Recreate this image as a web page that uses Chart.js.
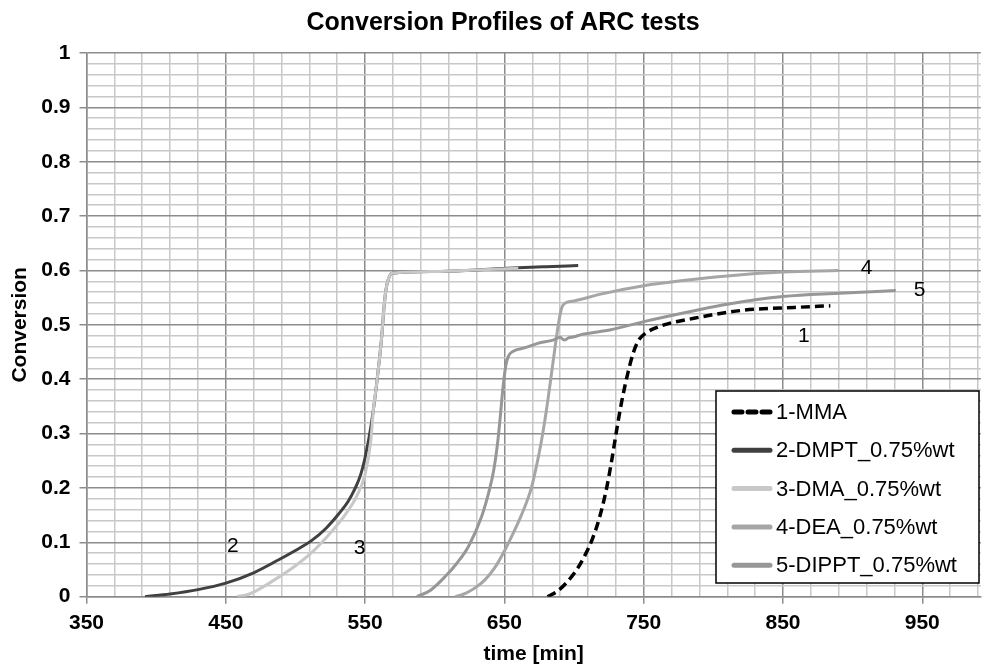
<!DOCTYPE html>
<html>
<head>
<meta charset="utf-8">
<script src="https://cdn.jsdelivr.net/npm/chart.js@4.4.0/dist/chart.umd.min.js"></script>
<style>
  body { margin: 0; background: #fff; }
  #wrap { width: 985px; height: 667px; }
</style>
</head>
<body>
<div id="wrap"><canvas id="arcChart" width="985" height="667"></canvas></div>
<script>
const seriesNames = ["1-MMA", "2-DMPT_0.75%wt", "3-DMA_0.75%wt", "4-DEA_0.75%wt", "5-DIPPT_0.75%wt"];

// values: time [min] / conversion
const mmaTime = [681, 688, 695, 702, 708, 713, 718, 723, 727, 730.5, 734, 738.5, 743, 747, 751, 760, 786, 822, 858, 884];
const mmaConv = [0, 0.01, 0.027, 0.05, 0.077, 0.105, 0.143, 0.195, 0.25, 0.305, 0.356, 0.41, 0.452, 0.474, 0.484, 0.496, 0.512, 0.527, 0.532, 0.535];

const dmptTime = [392, 410, 430, 450, 470, 488, 500, 512, 522, 531, 538, 543, 547, 550, 553, 556, 558, 560, 562, 563.5, 565, 567, 569.5, 600, 630, 660, 680, 703];
const dmptConv = [0, 0.005, 0.013, 0.025, 0.044, 0.068, 0.085, 0.104, 0.126, 0.152, 0.176, 0.2, 0.226, 0.256, 0.295, 0.345, 0.385, 0.43, 0.48, 0.53, 0.565, 0.586, 0.595, 0.598, 0.601, 0.605, 0.607, 0.609];

const dmaTime = [458, 466, 474, 488, 500, 512, 526, 536, 544, 550, 554, 556, 558, 560, 562, 563.5, 565, 567, 569.5, 600, 630, 660];
const dmaConv = [0, 0.004, 0.014, 0.036, 0.057, 0.082, 0.12, 0.152, 0.185, 0.225, 0.285, 0.345, 0.385, 0.43, 0.48, 0.53, 0.565, 0.586, 0.595, 0.598, 0.601, 0.604];

const deaTime = [614.6, 620, 625, 630, 636, 643, 650.4, 656, 662.2, 669.4, 673, 676.5, 680, 683, 686, 689, 691, 693, 700, 720, 750, 780, 810, 850, 890];
const deaConv = [0, 0.004, 0.01, 0.018, 0.031, 0.053, 0.086, 0.115, 0.15, 0.2, 0.24, 0.285, 0.34, 0.395, 0.452, 0.505, 0.53, 0.539, 0.544, 0.557, 0.572, 0.582, 0.59, 0.597, 0.6];

const dipptTime = [587.2, 597, 607.5, 616, 624.1, 633.6, 639.6, 642.5, 645, 647, 649, 651, 653, 656, 665, 674, 685, 690, 693, 696, 700, 705, 726.5, 750, 788, 810, 850, 890, 931];
const dipptConv = [0, 0.012, 0.037, 0.062, 0.092, 0.147, 0.2, 0.235, 0.28, 0.33, 0.385, 0.425, 0.443, 0.451, 0.458, 0.466, 0.472, 0.477, 0.472, 0.476, 0.478, 0.482, 0.491, 0.506, 0.527, 0.538, 0.552, 0.558, 0.563];

const xTickLabels = ["350", "450", "550", "650", "750", "850", "950"];
const yTickLabels = ["0", "0.1", "0.2", "0.3", "0.4", "0.5", "0.6", "0.7", "0.8", "0.9", "1"];

// numbers written next to the curves
const curveTags = ["1", "2", "3", "4", "5"];
const tagTime = [865, 455, 546, 910, 948];
const tagConv = [0.48, 0.092, 0.09, 0.605, 0.563];

const FONT = "'Liberation Sans', Arial, sans-serif";
const MAJOR = "#8c8c8c";
const MINOR = "#c8c8c8";

Chart.defaults.font.family = FONT;
Chart.defaults.color = "#000";

function toPoints(t, c) {
  return t.map((v, i) => ({ x: v, y: c[i] }));
}

function xIsMajor(v) {
  return xTickLabels.includes(String(Math.round(v)));
}

function yIsMajor(v) {
  return Math.round(v * 50) % 5 === 0;
}

const decorPlugin = {
  id: "decor",
  afterDraw(chart) {
    const { ctx, scales: { x, y } } = chart;
    ctx.save();

    // title
    ctx.fillStyle = "#000";
    ctx.font = "bold 25px " + FONT;
    ctx.textAlign = "center";
    ctx.textBaseline = "middle";
    ctx.fillText("Conversion Profiles of ARC tests", 503, 23);

    // curve numbers
    ctx.font = "21px " + FONT;
    curveTags.forEach((t, i) => {
      ctx.fillText(t, x.getPixelForValue(tagTime[i]), y.getPixelForValue(tagConv[i]));
    });

    // legend box inside the plot
    const lx = 716, ly = 391, lw = 263, lh = 192;
    ctx.fillStyle = "#fff";
    ctx.fillRect(lx, ly, lw, lh);
    ctx.strokeStyle = "#000";
    ctx.lineWidth = 1.5;
    ctx.strokeRect(lx, ly, lw, lh);

    ctx.font = "22px " + FONT;
    ctx.textAlign = "left";
    chart.data.datasets.forEach((ds, i) => {
      const cy = ly + 21 + i * 38.3;
      ctx.beginPath();
      ctx.strokeStyle = ds.borderColor;
      ctx.lineWidth = 5;
      ctx.lineCap = "round";
      ctx.setLineDash(ds.borderDash ? [8, 6] : []);
      ctx.moveTo(lx + 18, cy);
      ctx.lineTo(lx + 54, cy);
      ctx.stroke();
      ctx.setLineDash([]);
      ctx.fillStyle = "#000";
      ctx.fillText(ds.label, lx + 60, cy + 1);
    });

    ctx.restore();
  },
};

const lineColors = ["#000000", "#404040", "#c8c8c8", "#a6a6a6", "#979797"];
const allTimes = [mmaTime, dmptTime, dmaTime, deaTime, dipptTime];
const allConvs = [mmaConv, dmptConv, dmaConv, deaConv, dipptConv];

const datasets = seriesNames.map((name, i) => ({
  label: name,
  data: toPoints(allTimes[i], allConvs[i]),
  borderColor: lineColors[i],
  backgroundColor: lineColors[i],
  borderWidth: i === 0 ? 3.5 : 3,
  borderDash: i === 0 ? [9, 5] : undefined,
  pointRadius: 0,
  cubicInterpolationMode: "monotone",
  fill: false,
  order: 5 - i,
}));

new Chart(document.getElementById("arcChart"), {
  type: "line",
  data: { datasets: datasets },
  plugins: [decorPlugin],
  options: {
    responsive: false,
    animation: false,
    devicePixelRatio: 1,
    layout: { padding: { top: 53, left: 0, right: 0, bottom: 0 } },
    plugins: {
      legend: { display: false },
      title: { display: false },
      tooltip: { enabled: false },
    },
    scales: {
      x: {
        type: "linear",
        min: 350,
        max: 992,
        afterFit: (scale) => { scale.height = 70.3; },
        afterBuildTicks: (scale) => {
          const ticks = [];
          for (let v = 350; v <= 990; v += 20) ticks.push({ value: v });
          scale.ticks = ticks;
        },
        ticks: {
          autoSkip: false,
          maxRotation: 0,
          padding: 7,
          font: { size: 21, weight: "bold" },
          callback: (value) => (xIsMajor(value) ? String(value) : ""),
        },
        grid: {
          color: (c) => (c.tick && xIsMajor(c.tick.value) ? MAJOR : MINOR),
          lineWidth: 1.5,
          tickLength: 7,
          tickWidth: 1.5,
          tickColor: (c) => (c.tick && xIsMajor(c.tick.value) ? MAJOR : "rgba(0,0,0,0)"),
        },
        border: { color: MAJOR, width: 1.5 },
        title: {
          display: true,
          text: "time [min]",
          font: { size: 21, weight: "bold" },
          padding: { top: 0, bottom: 0 },
        },
      },
      y: {
        min: 0,
        max: 1,
        afterFit: (scale) => { scale.width = 86.5; },
        afterBuildTicks: (scale) => {
          const ticks = [];
          for (let i = 0; i <= 50; i++) ticks.push({ value: i / 50 });
          scale.ticks = ticks;
        },
        ticks: {
          autoSkip: false,
          padding: 9,
          font: { size: 21, weight: "bold" },
          callback: (value) => {
            const k = Math.round(value * 50);
            return k % 5 === 0 ? yTickLabels[k / 5] : "";
          },
        },
        grid: {
          color: (c) => (c.tick && yIsMajor(c.tick.value) ? MAJOR : MINOR),
          lineWidth: 1.5,
          tickLength: 7,
          tickWidth: 1.5,
          tickColor: (c) => (c.tick && yIsMajor(c.tick.value) ? MAJOR : "rgba(0,0,0,0)"),
        },
        border: { color: MAJOR, width: 1.5 },
        title: {
          display: true,
          text: "Conversion",
          font: { size: 21, weight: "bold" },
          padding: { top: 8, bottom: 0 },
        },
      },
    },
  },
});
</script>
</body>
</html>
